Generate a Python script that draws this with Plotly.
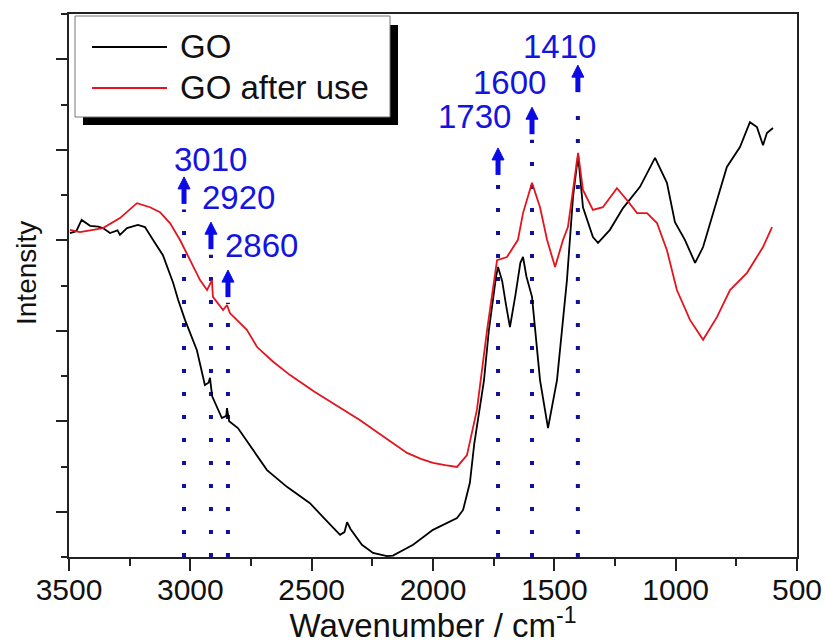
import plotly.graph_objects as go

# ---------------- data ----------------
go_wavenumber = [3496, 3470, 3448, 3413, 3380, 3360, 3331, 3300, 3290, 3261, 3216, 3187,
                 3154, 3113, 3071, 3050, 3022, 2993, 2973, 2940, 2925, 2919, 2910, 2870,
                 2852, 2849, 2840, 2804, 2742, 2684, 2602, 2507, 2453, 2383, 2365, 2354,
                 2340, 2293, 2247, 2190, 2165, 2082, 2000, 1901, 1876, 1848, 1830, 1810,
                 1790, 1770, 1753, 1740, 1732, 1715, 1700, 1683, 1660, 1640, 1629, 1615,
                 1592, 1559, 1526, 1489, 1448, 1423, 1402, 1382, 1341, 1320, 1271, 1217,
                 1147, 1085, 1036, 1003, 962, 920, 887, 830, 789, 735, 694, 665, 640, 624, 599]
go_intensity = [7.16, 7.20, 7.45, 7.32, 7.30, 7.27, 7.16, 7.22, 7.12, 7.27, 7.34, 7.29,
                7.01, 6.67, 6.06, 5.68, 5.24, 4.86, 4.57, 3.80, 3.85, 3.96, 3.55, 3.07,
                3.12, 3.29, 3.00, 2.85, 2.36, 1.92, 1.55, 1.19, 0.88, 0.49, 0.55, 0.77,
                0.62, 0.27, 0.09, 0.02, 0.03, 0.27, 0.60, 0.86, 1.04, 1.64, 2.50, 3.20,
                3.90, 5.00, 5.75, 6.20, 6.41, 6.10, 5.60, 5.08, 5.80, 6.50, 6.63, 6.20,
                5.75, 3.91, 2.85, 3.91, 6.12, 7.96, 8.88, 7.73, 7.07, 6.94, 7.23, 7.71,
                8.18, 8.82, 8.27, 7.40, 7.01, 6.50, 6.85, 7.89, 8.62, 9.06, 9.61, 9.50,
                9.10, 9.37, 9.48]

used_wavenumber = [3496, 3455, 3401, 3360, 3290, 3220, 3166, 3125, 3084, 3043, 3001, 2960,
                   2931, 2911, 2907, 2865, 2849, 2837, 2767, 2725, 2660, 2589, 2490, 2383,
                   2300, 2231, 2160, 2107, 2050, 2000, 1950, 1901, 1860, 1819, 1777, 1736,
                   1695, 1650, 1629, 1592, 1559, 1530, 1497, 1464, 1444, 1402, 1382, 1341,
                   1300, 1242, 1201, 1159, 1118, 1077, 1036, 995, 941, 887, 830, 776, 706,
                   640, 603]
used_intensity = [7.23, 7.18, 7.23, 7.27, 7.49, 7.82, 7.73, 7.62, 7.38, 7.01, 6.56, 6.12,
                  5.90, 6.12, 5.75, 5.46, 5.57, 5.39, 5.02, 4.64, 4.32, 4.02, 3.66, 3.31,
                  3.02, 2.76, 2.50, 2.30, 2.17, 2.08, 2.03, 1.99, 2.25, 3.25, 5.02, 6.56,
                  6.63, 7.01, 7.60, 8.27, 7.73, 7.01, 6.41, 7.01, 7.29, 8.93, 8.11, 7.67,
                  7.73, 8.15, 7.89, 7.60, 7.60, 7.38, 6.78, 5.90, 5.24, 4.80, 5.30, 5.90,
                  6.28, 6.85, 7.29]

series_names = ["GO", "GO after use"]

peak_labels = ["3010", "2920", "2860", "1730", "1600", "1410"]
peak_pos = [3026, 2915, 2845, 1732, 1592, 1403]
arrow_tip = [8.40, 7.40, 6.34, 9.04, 9.94, 10.87]

x_tick_vals = [3500, 3000, 2500, 2000, 1500, 1000, 500]
x_tick_text = ["3500", "3000", "2500", "2000", "1500", "1000", "500"]

# ---------------- styles / layout helpers ----------------
FONT = "Arial, 'Liberation Sans', sans-serif"
BLUE_TXT = "#1414e0"
BLUE_ARROW = "#0a0ae6"
BLUE_DOT = "#10109a"
BLACK = "#000000"
RED = "#e3141c"

W, H = 825, 644
ML, MR, MT, MB = 69, 28, 14, 87
PW, PH = W - ML - MR, H - MT - MB
Y_RANGE = (0, 12)
PX_PER_UNIT = PH / (Y_RANGE[1] - Y_RANGE[0])


def xp(px):
    return (px - ML) / PW


def yp(py):
    return (H - MB - py) / PH


label_anchor = ["left", "left", "left", "right", "right", "right"]
label_dx = [-12, -11, -5, 15, 16, 20]
label_dy = [17, 25, 25, 31, 25, 19]
ARROW_LEN = 27 / PX_PER_UNIT        # arrow total length in data units
HEAD_LEN = 11 / PX_PER_UNIT
LINE_GAP = 0.72                     # data units below arrow tip where dots stop

fig = go.Figure()

# dotted guide lines
for pos, tip in zip(peak_pos, arrow_tip):
    fig.add_trace(go.Scatter(
        x=[pos, pos], y=[0, tip - LINE_GAP], mode="lines",
        line=dict(color=BLUE_DOT, width=4, dash="4px,19px"),
        showlegend=False, hoverinfo="skip"))

fig.add_trace(go.Scatter(x=go_wavenumber, y=go_intensity, mode="lines",
                         name=series_names[0], line=dict(color=BLACK, width=1.8),
                         showlegend=False))
fig.add_trace(go.Scatter(x=used_wavenumber, y=used_intensity, mode="lines",
                         name=series_names[1], line=dict(color=RED, width=1.8),
                         showlegend=False))

# arrows: stems + heads
for pos, tip in zip(peak_pos, arrow_tip):
    fig.add_trace(go.Scatter(
        x=[pos, pos], y=[tip - ARROW_LEN, tip - HEAD_LEN + 0.02], mode="lines",
        line=dict(color=BLUE_ARROW, width=5), showlegend=False, hoverinfo="skip"))
fig.add_trace(go.Scatter(
    x=peak_pos, y=arrow_tip, mode="markers",
    marker=dict(symbol="arrow-up", size=12, color=BLUE_ARROW,
                line=dict(width=1, color=BLUE_ARROW)),
    showlegend=False, hoverinfo="skip"))

annotations = []
for pos, tip, lab, anc, dx, dy in zip(peak_pos, arrow_tip, peak_labels,
                                      label_anchor, label_dx, label_dy):
    annotations.append(dict(
        x=pos, y=tip, xref="x", yref="y", text=lab, showarrow=False,
        xanchor=anc, yanchor="middle", xshift=dx, yshift=dy,
        font=dict(family=FONT, size=33, color=BLUE_TXT)))

# y-axis title
annotations.append(dict(
    x=xp(26), y=yp(273), xref="paper", yref="paper", text="Intensity",
    textangle=-90, showarrow=False, xanchor="center", yanchor="middle",
    font=dict(family=FONT, size=28, color="#111")))

# manual legend with drop shadow
shapes = [
    dict(type="rect", xref="paper", yref="paper", x0=xp(83), x1=xp(398),
         y0=yp(125), y1=yp(25), fillcolor="#000", line=dict(width=0), layer="above"),
    dict(type="rect", xref="paper", yref="paper", x0=xp(75), x1=xp(390),
         y0=yp(117), y1=yp(16), fillcolor="#fff", line=dict(color="#777", width=1),
         layer="above"),
]
leg_rows = [47, 88]
for name, color, row in zip(series_names, [BLACK, RED], leg_rows):
    shapes.append(dict(type="line", xref="paper", yref="paper", x0=xp(92), x1=xp(167),
                       y0=yp(row), y1=yp(row), line=dict(color=color, width=1.8),
                       layer="above"))
    annotations.append(dict(x=xp(178), y=yp(row), xref="paper", yref="paper",
                            text=name, showarrow=False, xanchor="left",
                            yanchor="middle",
                            font=dict(family=FONT, size=33, color="#111")))

fig.update_layout(
    width=W, height=H,
    margin=dict(l=ML, r=MR, t=MT, b=MB, autoexpand=False),
    paper_bgcolor="white", plot_bgcolor="white",
    font=dict(family=FONT, color="#111"),
    annotations=annotations, shapes=shapes,
    showlegend=False,
)
fig.update_xaxes(
    range=[3500, 500], tickvals=x_tick_vals, ticktext=x_tick_text,
    ticks="outside", ticklen=12, tickwidth=1.5, tickcolor="#222",
    minor=dict(dtick=250, ticks="outside", ticklen=7, tickwidth=1.5, tickcolor="#222"),
    showline=True, linecolor="#222", linewidth=1.5, mirror=True,
    showgrid=False, zeroline=False,
    tickfont=dict(family=FONT, size=30, color="#111"),
    ticklabelstandoff=-7,
    title=dict(text="Wavenumber / cm<sup>-1</sup>", standoff=18,
               font=dict(family=FONT, size=33, color="#111")),
    automargin=False,
)
fig.update_yaxes(
    range=list(Y_RANGE), tick0=1, dtick=2, ticks="outside", ticklen=11, tickwidth=1.5,
    tickcolor="#222",
    minor=dict(dtick=1, tick0=0, ticks="outside", ticklen=6, tickwidth=1.5, tickcolor="#222"),
    showticklabels=False,
    showline=True, linecolor="#222", linewidth=1.5, mirror=True,
    showgrid=False, zeroline=False, automargin=False,
)

fig.write_html("out.html", config={"displayModeBar": False},
               post_script="document.body.style.margin='0';")
